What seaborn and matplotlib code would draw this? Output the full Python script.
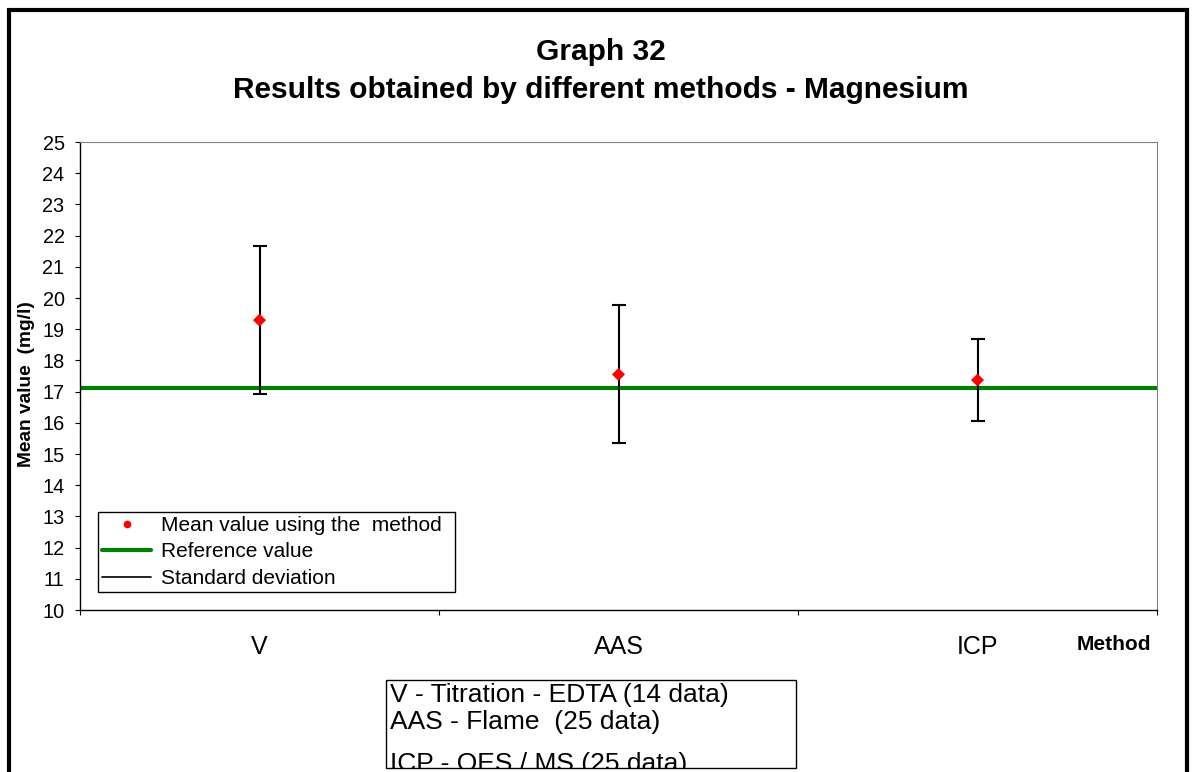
import matplotlib
matplotlib.use("Agg")
import matplotlib.pyplot as plt
import seaborn as sns
import pandas as pd
from matplotlib.lines import Line2D
from matplotlib.patches import Rectangle

# Mean magnesium results per analytical method (mg/l)
methods = ["V", "AAS", "ICP"]
mean_values = [19.29, 17.55, 17.37]
std_devs = [2.38, 2.21, 1.31]
reference_value = 17.12
y_ticks = list(range(10, 26))

legend_labels = ["Mean value using the  method", "Reference value", "Standard deviation"]
method_notes = [
    "V - Titration - EDTA (14 data)",
    "AAS - Flame  (25 data)",
    "ICP - OES / MS (25 data)",
]

sns.set_style("white")
plt.rcParams["font.family"] = ["Liberation Sans", "DejaVu Sans"]
plt.rcParams.update({"text.color": "black", "axes.labelcolor": "black",
                     "xtick.color": "black", "ytick.color": "black"})

W, H = 1193, 772
fig = plt.figure(figsize=(W / 100, H / 100), dpi=100)
fig.patch.set_facecolor("white")

# plot area in pixel terms
left, right, top, bottom = 80, 1157, 142, 610
ax = fig.add_axes([left / W, (H - bottom) / H, (right - left) / W, (bottom - top) / H])

df = pd.DataFrame({"method": methods, "pos": range(len(methods)),
                   "mean": mean_values, "sd": std_devs})

ax.axhline(reference_value, color="#008000", lw=3, zorder=2)
ax.errorbar(df["pos"], df["mean"], yerr=df["sd"], fmt="none", ecolor="black",
            elinewidth=1.5, capsize=4.7, capthick=1.5, zorder=3)
sns.scatterplot(data=df, x="pos", y="mean", marker="D", color="red", s=44,
                edgecolor="none", linewidth=0, ax=ax, zorder=4, legend=False)

ax.set_xlim(-0.5, len(methods) - 0.5)
ax.set_ylim(10, 25)
ax.set_yticks(y_ticks)
ax.tick_params(axis="y", direction="out", length=3.6, width=0.8, labelsize=14.3, pad=7.5,
               left=True)

ax.set_xticks([i - 0.5 for i in range(len(methods) + 1)])
ax.set_xticklabels([])
ax.set_xticks(list(range(len(methods))), minor=True)
ax.set_xticklabels(methods, minor=True, fontsize=18)
ax.tick_params(axis="x", which="major", direction="out", length=3.6, width=0.8, bottom=True)
ax.tick_params(axis="x", which="minor", length=0, pad=18)
ax.set_xlabel("")

ax.set_ylabel("Mean value  (mg/l)", fontsize=13.8, fontweight="bold")
ax.yaxis.set_label_coords((35 - left) / (right - left), (bottom - 384) / (bottom - top))

for side in ["left", "bottom"]:
    ax.spines[side].set_color("black")
    ax.spines[side].set_linewidth(1.0)
for side in ["top", "right"]:
    ax.spines[side].set_color("#808080")
    ax.spines[side].set_linewidth(0.8)

handles = [
    Line2D([], [], marker="o", color="red", ls="none", ms=4.5),
    Line2D([], [], color="#008000", lw=3),
    Line2D([], [], color="black", lw=1.2),
]
span = right - left
height = bottom - top
leg = ax.legend(handles, legend_labels, loc="lower left", mode="expand",
                bbox_to_anchor=((98 - left) / span, (bottom - 592) / height,
                                (455 - 98) / span, 82 / height),
                borderaxespad=0, frameon=True, fancybox=False, edgecolor="black",
                framealpha=1, fontsize=15, handlelength=2.35, handletextpad=0.48,
                labelspacing=0.36, borderpad=0.2)
leg.get_frame().set_linewidth(1.0)

# titles
fig.text(601 / W, 1 - 60 / H, "Graph 32", ha="center", va="baseline",
         fontsize=21.5, fontweight="bold")
fig.text(601 / W, 1 - 98 / H, "Results obtained by different methods - Magnesium",
         ha="center", va="baseline", fontsize=21.5, fontweight="bold")

# axis name for categories
fig.text(1114 / W, 1 - 650 / H, "Method", ha="center", va="baseline",
         fontsize=15, fontweight="bold")

# method description box; text overflowing the box is clipped by it
note_box = Rectangle((386 / W, 1 - 768 / H), (796 - 386) / W, (768 - 680) / H,
                     transform=fig.transFigure, fill=False, edgecolor="black",
                     linewidth=1.0)
fig.patches.append(note_box)
note_baselines = [702, 729, 771]
for note, base in zip(method_notes, note_baselines):
    t = fig.text(390 / W, 1 - base / H, note, ha="left", va="baseline", fontsize=19)
    t.set_clip_path(note_box)

# outer chart frame
fig.patches.append(Rectangle((9 / W, 1 - 800 / H), (1187 - 9) / W, (800 - 10.5) / H,
                             transform=fig.transFigure, fill=False, edgecolor="black",
                             linewidth=3))

fig.savefig("out.png", dpi=100)
